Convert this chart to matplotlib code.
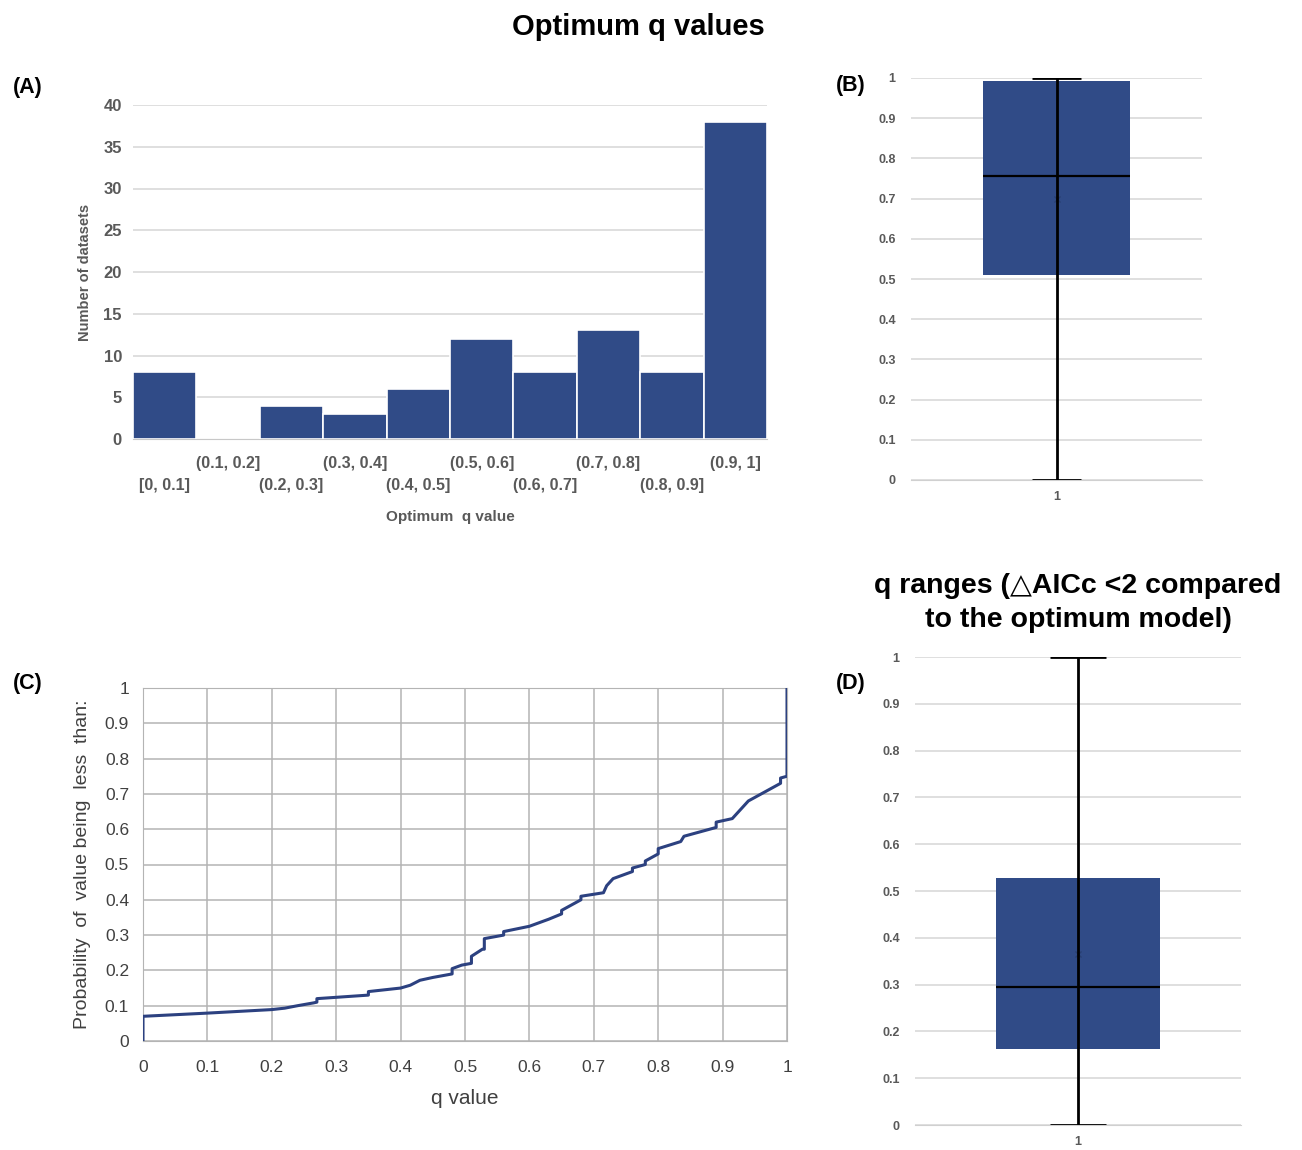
import matplotlib
matplotlib.use("Agg")
import matplotlib.pyplot as plt

# Panel A: histogram of optimum q values
bins = ["[0, 0.1]", "(0.1, 0.2]", "(0.2, 0.3]", "(0.3, 0.4]", "(0.4, 0.5]",
        "(0.5, 0.6]", "(0.6, 0.7]", "(0.7, 0.8]", "(0.8, 0.9]", "(0.9, 1]"]
counts = [8, 0, 4, 3, 6, 12, 8, 13, 8, 38]

# Panel B: box of optimum q
box_b = {"low": 0.0, "q1": 0.51, "med": 0.755, "mean": 0.70, "q3": 0.993, "high": 1.0}

# Panel C: cumulative probability curve
cdf_q = [0, 0, 0.1, 0.2, 0.22, 0.24, 0.265, 0.27, 0.27, 0.35, 0.35, 0.40, 0.415, 0.43,
         0.45, 0.48, 0.48, 0.495, 0.51, 0.51, 0.527, 0.53, 0.53, 0.56, 0.56, 0.60, 0.63,
         0.65, 0.65, 0.68, 0.68, 0.715, 0.72, 0.73, 0.76, 0.76, 0.78, 0.78, 0.80, 0.80,
         0.835, 0.84, 0.89, 0.89, 0.915, 0.92, 0.93, 0.94, 0.99, 0.99, 1.0, 1.0]
cdf_p = [0.0, 0.07, 0.079, 0.089, 0.093, 0.10, 0.108, 0.11, 0.12, 0.13, 0.14, 0.15, 0.158,
         0.172, 0.18, 0.19, 0.205, 0.215, 0.22, 0.24, 0.26, 0.26, 0.29, 0.30, 0.31, 0.325,
         0.345, 0.36, 0.37, 0.40, 0.41, 0.42, 0.44, 0.46, 0.48, 0.49, 0.50, 0.51, 0.53,
         0.545, 0.565, 0.58, 0.605, 0.62, 0.63, 0.64, 0.66, 0.68, 0.73, 0.745, 0.75, 1.0]

# Panel D: box of q ranges
box_d = {"low": 0.0, "q1": 0.163, "med": 0.295, "mean": 0.365, "q3": 0.528, "high": 1.0}

blue = "#304b87"
grey_txt = "#595959"
narrow = ["Liberation Sans Narrow", "Liberation Sans", "DejaVu Sans"]
bold_fam = ["Liberation Sans", "DejaVu Sans"]

W, H = 1302, 1150
fig = plt.figure(figsize=(W / 100, H / 100), dpi=100)
fig.patch.set_facecolor("white")


def px_axes(x0, y0, x1, y1):
    # pixel box (top-left origin) -> figure axes
    return fig.add_axes([x0 / W, 1 - y1 / H, (x1 - x0) / W, (y1 - y0) / H])


# ---- (A) histogram
axA = px_axes(133, 105, 767, 439)
axA.bar(range(len(counts)), counts, width=1.0, color=blue, edgecolor="white", linewidth=1.2, zorder=3)
axA.set_xlim(-0.5, len(counts) - 0.5)
axA.set_ylim(0, 40)
axA.set_yticks(range(0, 41, 5))
axA.yaxis.grid(True, color="#d9d9d9", lw=1.2, zorder=0)
for s in ["top", "right", "left"]:
    axA.spines[s].set_visible(False)
axA.spines["bottom"].set_color("#c8c8c8")
axA.set_xticks(range(len(bins)))
axA.set_xticklabels(bins, fontsize=11.5, fontweight="bold", color=grey_txt, family=narrow)
for i, t in enumerate(axA.xaxis.get_major_ticks()):
    t.set_pad(28 if i % 2 == 0 else 12)
axA.tick_params(axis="both", length=0)
axA.tick_params(axis="y", pad=8)
for lab in axA.get_yticklabels():
    lab.set_fontsize(12)
    lab.set_fontweight("bold")
    lab.set_color(grey_txt)
    lab.set_family(narrow)
axA.set_ylabel("Number of datasets", fontsize=10.5, fontweight="bold", color=grey_txt,
               family=narrow, labelpad=8)
axA.set_xlabel("Optimum  q value", fontsize=11, fontweight="bold", color=grey_txt,
               family=narrow, labelpad=12)


def draw_box(ax, st):
    ax.bar([1], [st["q3"] - st["q1"]], bottom=st["q1"], width=0.505, color=blue, zorder=2)
    ax.vlines(1, st["low"], st["high"], color="black", lw=2, zorder=4)
    ax.hlines([st["low"], st["high"]], 0.915, 1.085, color="black", lw=2, zorder=4)
    ax.hlines(st["med"], 1 - 0.2525, 1 + 0.2525, color="black", lw=1.6, zorder=4)
    ax.plot([1], [st["mean"]], marker="x", color="#283f72", ms=5, zorder=3)
    ax.set_xlim(0.5, 1.5)
    ax.set_ylim(0, 1)
    ax.set_yticks([i / 10 for i in range(11)])
    ax.set_yticklabels(["0"] + ["0.%d" % i for i in range(1, 10)] + ["1"])
    ax.set_xticks([1])
    ax.set_xticklabels(["1"])
    ax.yaxis.grid(True, color="#d9d9d9", lw=1.2, zorder=0)
    for s in ["top", "right", "left"]:
        ax.spines[s].set_visible(False)
    ax.spines["bottom"].set_color("#d0d0d0")
    ax.tick_params(axis="both", length=0, labelsize=9, labelcolor=grey_txt, pad=11)
    for lab in ax.get_yticklabels() + ax.get_xticklabels():
        lab.set_fontweight("bold")
        lab.set_family(narrow)
    ax.tick_params(axis="x", pad=8)


# ---- (B)
axB = px_axes(911, 78, 1202, 480)
draw_box(axB, box_b)

# ---- (C) cumulative curve
axC = px_axes(143, 688, 787, 1041)
axC.plot(cdf_q, cdf_p, color="#2c4180", lw=2.2, zorder=3)
axC.set_xlim(0, 1)
axC.set_ylim(0, 1)
ticks = [i / 10 for i in range(11)]
tlabels = ["0"] + ["0.%d" % i for i in range(1, 10)] + ["1"]
axC.set_xticks(ticks)
axC.set_xticklabels(tlabels)
axC.set_yticks(ticks)
axC.set_yticklabels(tlabels)
axC.grid(True, color="#b4b4b4", lw=1.1, zorder=0)
for s in axC.spines.values():
    s.set_color("#b4b4b4")
axC.tick_params(axis="both", length=0, labelsize=12.5, labelcolor="#404040")
axC.tick_params(axis="x", pad=14)
axC.tick_params(axis="y", pad=10)
for lab in axC.get_yticklabels() + axC.get_xticklabels():
    lab.set_family(narrow)
axC.set_ylabel("Probability  of  value being  less  than:", fontsize=14, color="#404040",
               family=narrow, labelpad=10)
axC.set_xlabel("q value", fontsize=15, color="#404040", family=narrow, labelpad=10)

# ---- (D)
axD = px_axes(915, 657, 1241, 1125)
draw_box(axD, box_d)

# titles and panel letters
fig.text(638 / W, 1 - 27 / H, "Optimum q values", ha="center", va="center",
         fontsize=21, fontweight="bold", family=bold_fam)
fig.text(1078 / W, 1 - 603 / H, "q ranges (\u25b3AICc <2 compared\nto the optimum model)",
         ha="center", va="center", fontsize=20.5, fontweight="bold", family=bold_fam,
         linespacing=1.4)
for lbl, x, y in [("(A)", 28, 87), ("(B)", 851, 85), ("(C)", 28, 683), ("(D)", 851, 683)]:
    fig.text(x / W, 1 - y / H, lbl, ha="center", va="center", fontsize=15.5,
             fontweight="bold", family=bold_fam)

fig.savefig("out.png", dpi=100, facecolor="white")
